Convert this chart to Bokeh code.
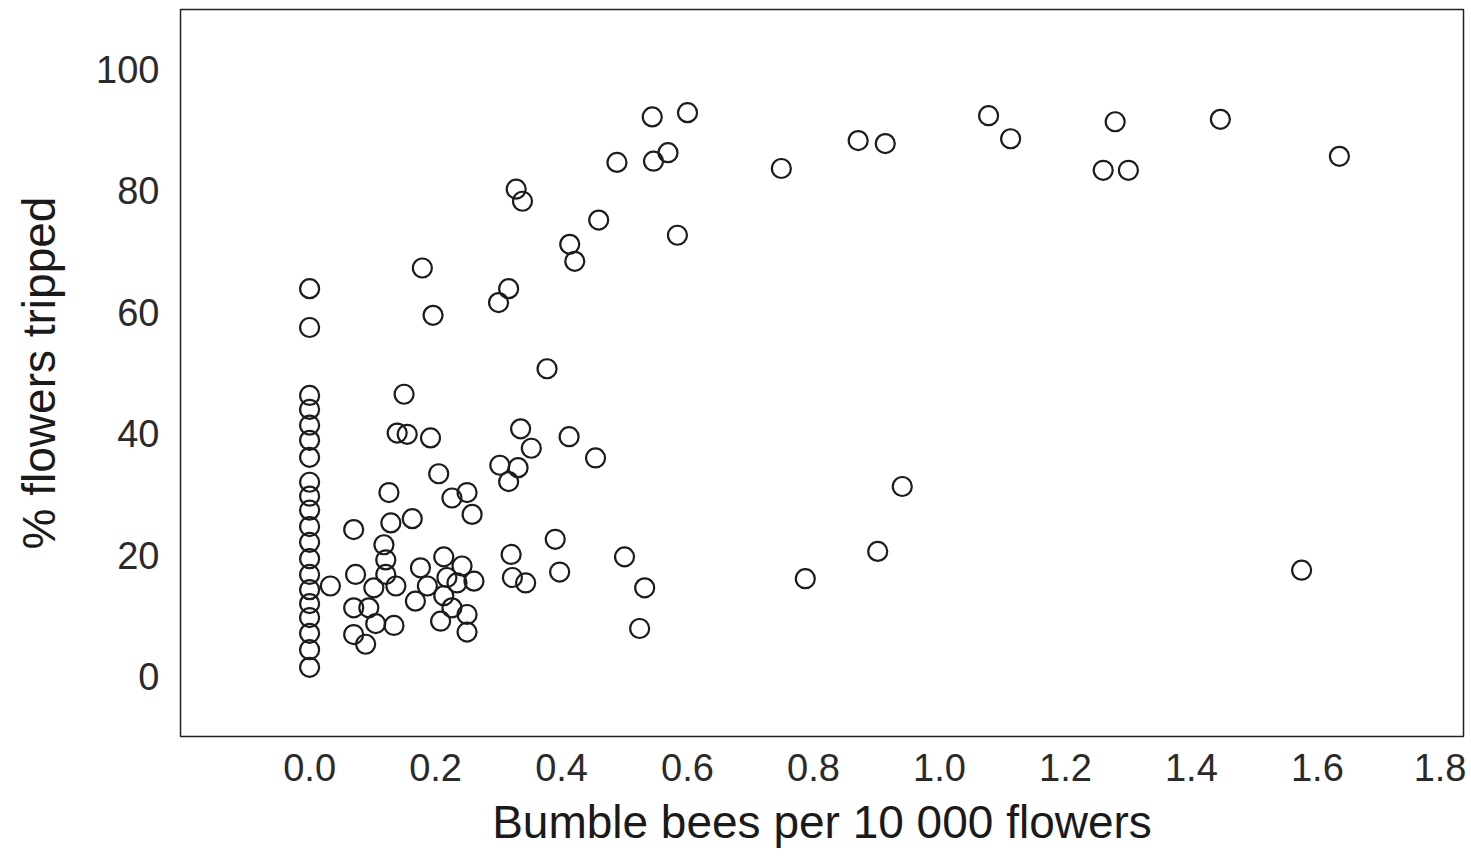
from bokeh.plotting import figure
from bokeh.models import FixedTicker, PrintfTickFormatter
from bokeh.embed import file_html
from bokeh.resources import INLINE

# Bumble bees per 10 000 flowers
bees = [
    # x = 0 column
    0.0, 0.0, 0.0, 0.0, 0.0, 0.0, 0.0, 0.0, 0.0, 0.0,
    0.0, 0.0, 0.0, 0.0, 0.0, 0.0, 0.0, 0.0, 0.0, 0.0,
    # low cluster
    0.033, 0.070, 0.073, 0.070, 0.094, 0.105, 0.134, 0.070, 0.089, 0.102,
    0.137, 0.118, 0.121, 0.121, 0.126, 0.129, 0.163, 0.150, 0.139, 0.155,
    0.192, 0.205, 0.226, 0.250, 0.258, 0.176, 0.213, 0.242, 0.261, 0.234,
    0.218, 0.187, 0.213, 0.168, 0.226, 0.250, 0.208, 0.250,
    # middle
    0.335, 0.352, 0.412, 0.454, 0.302, 0.331, 0.316, 0.390, 0.320, 0.322,
    0.343, 0.397, 0.500, 0.532, 0.524, 0.377,
    # upper
    0.544, 0.600, 0.488, 0.569, 0.546, 0.328, 0.338, 0.459, 0.584, 0.413,
    0.421, 0.179, 0.316, 0.300, 0.196,
    # right upper
    0.749, 0.871, 0.914, 1.078, 1.113, 1.260, 1.300, 1.279, 1.446, 1.635,
    # right lower
    0.787, 0.902, 0.941, 1.575,
]

# % flowers tripped
tripped = [
    63.9, 57.5, 46.3, 44.0, 41.4, 38.9, 36.1, 32.0, 29.7, 27.4,
    24.7, 22.1, 19.4, 16.8, 14.3, 12.0, 9.7, 7.1, 4.4, 1.5,
    14.9, 24.2, 16.8, 11.3, 11.3, 8.7, 8.4, 6.9, 5.3, 14.6,
    14.9, 21.7, 19.2, 16.8, 30.3, 25.3, 26.0, 46.5, 40.1, 39.9,
    39.3, 33.4, 29.4, 30.3, 26.7, 17.9, 19.7, 18.2, 15.7, 15.4,
    16.3, 14.9, 13.3, 12.4, 11.3, 10.2, 9.1, 7.3,
    40.8, 37.6, 39.5, 36.0, 34.8, 34.4, 32.1, 22.6, 20.1, 16.3,
    15.4, 17.2, 19.7, 14.6, 7.9, 50.7,
    92.2, 92.9, 84.7, 86.3, 84.9, 80.3, 78.3, 75.2, 72.7, 71.2,
    68.4, 67.3, 63.9, 61.6, 59.5,
    83.7, 88.3, 87.8, 92.4, 88.6, 83.4, 83.4, 91.4, 91.8, 85.7,
    16.1, 20.6, 31.3, 17.5,
]

x_ticks = [0.0, 0.2, 0.4, 0.6, 0.8, 1.0, 1.2, 1.4, 1.6, 1.8]
y_ticks = [0, 20, 40, 60, 80, 100]

p = figure(width=1466, height=850, output_backend="svg", toolbar_location=None,
           x_range=(-0.205, 1.832), y_range=(-9.9, 109.9),
           min_border_left=180, min_border_top=9, min_border_right=3,
           min_border_bottom=10)

p.scatter(bees, tripped, marker="circle", size=19, fill_color=None,
          line_color="#1c1c1c", line_width=2.2)

p.xgrid.visible = False
p.ygrid.visible = False
p.background_fill_color = "white"
p.border_fill_color = "white"
p.outline_line_color = "#222222"
p.outline_line_width = 1.5

p.xaxis.ticker = FixedTicker(ticks=x_ticks)
p.xaxis.formatter = PrintfTickFormatter(format="%.1f")
p.yaxis.ticker = FixedTicker(ticks=y_ticks)

for ax in (p.xaxis[0], p.yaxis[0]):
    ax.axis_line_color = None
    ax.major_tick_line_color = None
    ax.minor_tick_line_color = None
    ax.major_label_text_font = "Liberation Sans"
    ax.major_label_text_font_size = "38px"
    ax.major_label_text_color = "#2a2a2a"
    ax.axis_label_text_font = "Liberation Sans"
    ax.axis_label_text_font_size = "46px"
    ax.axis_label_text_font_style = "normal"
    ax.axis_label_text_color = "#1a1a1a"

p.xaxis.axis_label = "Bumble bees per 10 000 flowers"
p.yaxis.axis_label = "% flowers tripped"
p.xaxis.major_label_standoff = 11
p.xaxis.axis_label_standoff = 12
p.yaxis.major_label_standoff = 15
p.yaxis.axis_label_standoff = 28

open("out.html", "w").write(file_html(p, INLINE))
